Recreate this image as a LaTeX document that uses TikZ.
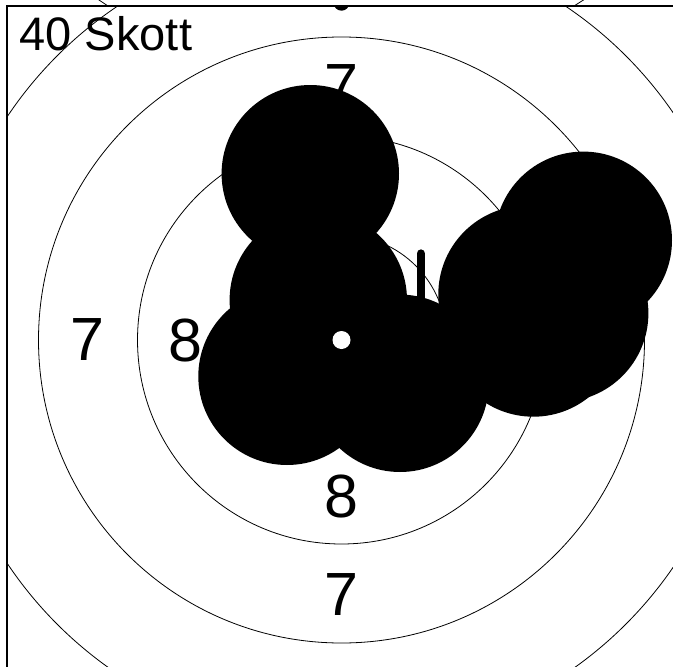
\documentclass[tikz,border=0pt]{standalone}
\usepackage{fontspec}
\setmainfont{Liberation Sans}
\tikzset{
  ring/.style={draw=black, line width=0.8pt},
  shot/.style={fill=black},
  ringlabel/.style={inner sep=0pt, font=\fontsize{61}{61}\selectfont},
  frameline/.style={draw=black, line width=1.6pt}
}
\begin{document}
\begin{tikzpicture}[x=1pt,y=-1pt]
\useasboundingbox (0,0) rectangle (673,667);
\clip (0,0) rectangle (673,667);
\coordinate (c) at (341.5,340);
% bits outside the frame
\draw[line width=0.8pt] (97.5,-1) -- (108,6);
\draw[line width=0.8pt] (574,6) -- (585,-1);
\begin{scope}
\clip (7,6) rectangle (673,667);
% rings
\foreach \r in {105,204,303,402} \draw[ring] (c) circle[radius=\r];
% small mark at top centre
\fill (341.5,2.7) circle[radius=8];
% ring labels
\node[ringlabel] (t7) at (341.5,86) {7};
\node[ringlabel] (b7) at (341.5,594.5) {7};
\node[ringlabel] (l7) at (87.5,340) {7};
\node[ringlabel] (l8) at (185.5,340) {8};
\node[ringlabel] (b8) at (341.5,496.5) {8};
% shots
\foreach \x/\y in {310.3/173.7, 318.3/300, 287/376.3, 400/383.3, 527/294.3, 533.3/328, 559.7/313.3, 583.3/240.3}
  \fill[shot] (\x,\y) circle[radius=88.7];
% centre dot
\fill[white] (c) circle[radius=9];
% bar
\draw[line width=8.3pt, line cap=round] (420.8,253.5) -- (420.8,320);
\end{scope}
% frame
\draw[frameline] (674,6) -- (7,6) -- (7,668);
% title
\node[inner sep=0pt, anchor=base west, font=\fontsize{47}{47}\selectfont] (title) at (19.5,50) {40 Skott};
\end{tikzpicture}
\end{document}
